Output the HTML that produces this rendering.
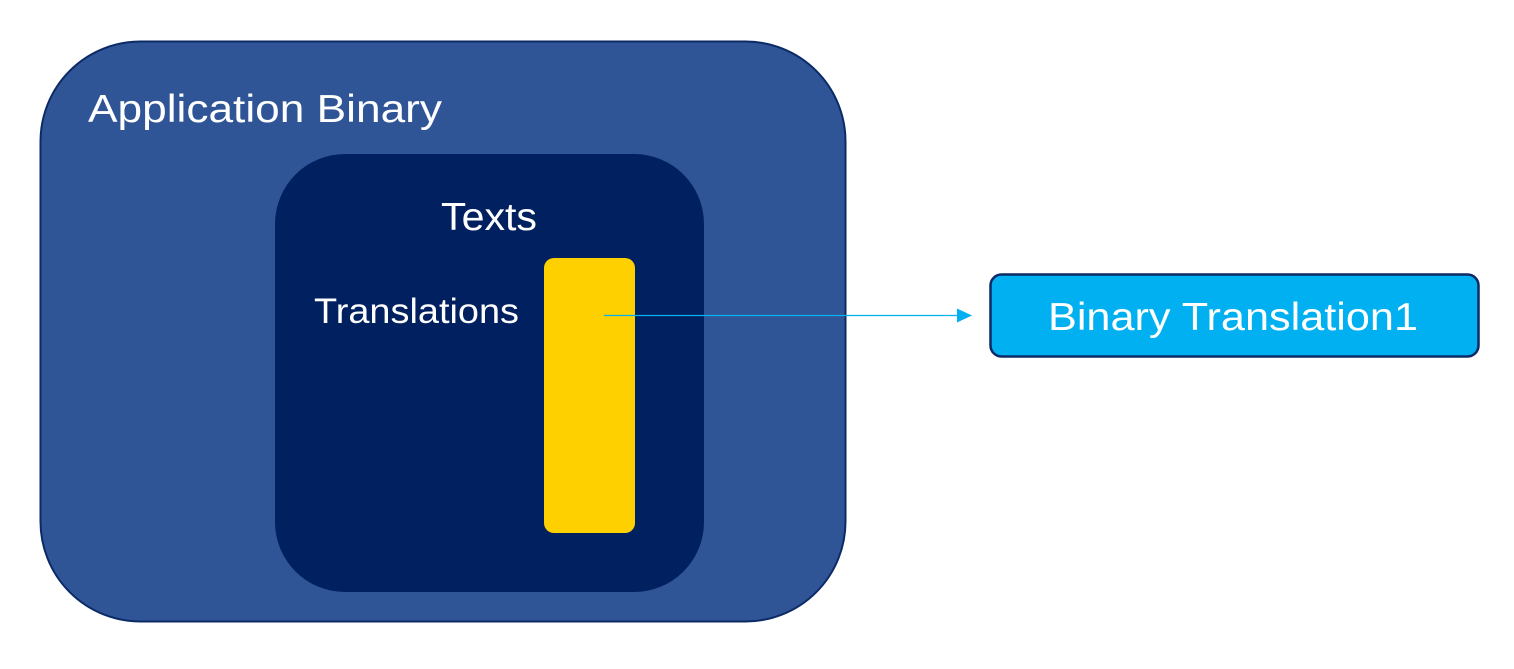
<!DOCTYPE html>
<html><head><meta charset="utf-8"><style>
html,body{margin:0;padding:0;background:#fff;width:1514px;height:669px;overflow:hidden}
svg text{font-family:"Liberation Sans",sans-serif;fill:#fff}
</style></head><body>
<svg width="1514" height="669" viewBox="0 0 1514 669" xmlns="http://www.w3.org/2000/svg">
<rect x="40.5" y="41.5" width="805" height="580" rx="100" ry="100" fill="#2f5597" stroke="#0c2a66" stroke-width="2"/>
<rect x="275" y="154" width="429" height="438" rx="70" ry="70" fill="#002060"/>
<rect x="544" y="258" width="91" height="275" rx="10" ry="10" fill="#ffd000"/>
<rect x="990.5" y="274.5" width="488" height="82" rx="11" ry="11" fill="#00b0f0" stroke="#0c2a66" stroke-width="2.5"/>
<line x1="604" y1="315.5" x2="958" y2="315.5" stroke="#00b0f0" stroke-width="1.3"/>
<polygon points="957,308.5 972,315.5 957,322.5" fill="#00b0f0"/>
<text x="88" y="122" font-size="39" textLength="354" lengthAdjust="spacingAndGlyphs">Application Binary</text>
<text x="441" y="230" font-size="39" textLength="96" lengthAdjust="spacingAndGlyphs">Texts</text>
<text x="314" y="323" font-size="35" textLength="205" lengthAdjust="spacingAndGlyphs">Translations</text>
<text x="1048" y="330" font-size="39" textLength="370" lengthAdjust="spacingAndGlyphs">Binary Translation1</text>
</svg>
</body></html>
